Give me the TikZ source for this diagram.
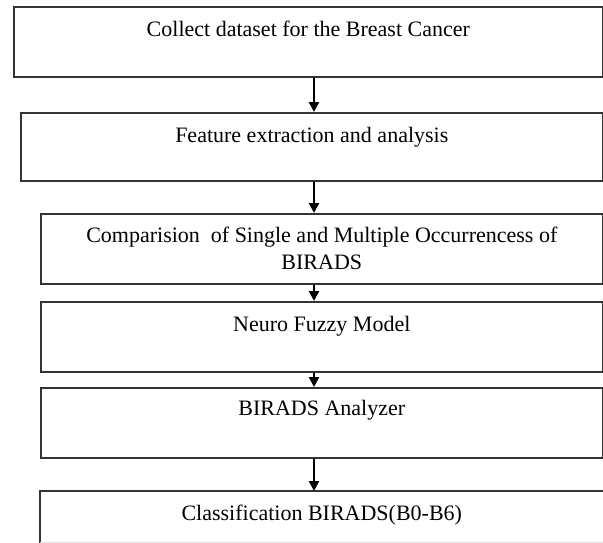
\documentclass[tikz,border=0pt]{standalone}
\usepackage{fontspec}
\setmainfont{Liberation Serif}
\usepackage{tikz}
\usetikzlibrary{arrows.meta, positioning}
\definecolor{mBorder}{HTML}{333333}
\definecolor{mFaint}{HTML}{E2E2E2}
\tikzset{
  stagebox/.style={draw=mBorder, line width=1.6pt, anchor=north west, inner sep=0pt,
    minimum height=70pt, font=\fontsize{22}{27}\selectfont, text height=30pt, text depth=40pt},
  flowarrow/.style={-{Triangle[length=10pt, width=10pt]}, line width=2.2pt}
}

\begin{document}
\begin{tikzpicture}[x=1pt, y=-1pt]
    \useasboundingbox (0,0) rectangle (603,542);
    \coordinate (axis) at (314,0);
    \node[stagebox, minimum width=589pt] (collect) at (13,6) {Collect dataset for the Breast Cancer};
    \node[stagebox, minimum width=582pt, minimum height=68pt, text depth=38pt] (feature) at (20,112) {Feature extraction and analysis};
    \node[stagebox, minimum width=562pt, text height=, text depth=, align=center] (compare) at (40,213)
      {Comparision\ \ of Single and Multiple Occurrencess of\\BIRADS};
    \node[stagebox, minimum width=562pt] (neuro) at (40,301) {Neuro Fuzzy Model};
    \node[stagebox, minimum width=562pt, text height=28pt, text depth=42pt] (analyzer) at (40,387) {BIRADS Analyzer};
    \node[stagebox, draw=none, minimum width=562pt, minimum height=50pt, text height=29pt, text depth=21pt] (classify) at (40,491) {Classification BIRADS(B0-B6)};
    \draw[mBorder, line width=1.6pt] (classify.south west) -- (classify.north west) -- (classify.north east) -- (classify.south east);
    \draw[mFaint, line width=1pt] (classify.south west) -- (classify.south east);
    % arrows between the stages
    \draw[flowarrow] (collect.south -| axis) -- (feature.north -| axis);
    \draw[flowarrow] (feature.south -| axis) -- (compare.north -| axis);
    \draw[flowarrow] (compare.south -| axis) -- (neuro.north -| axis);
    \draw[flowarrow] (neuro.south -| axis) -- (analyzer.north -| axis);
    \draw[flowarrow] (analyzer.south -| axis) -- (classify.north -| axis);
  \end{tikzpicture}
\end{document}
